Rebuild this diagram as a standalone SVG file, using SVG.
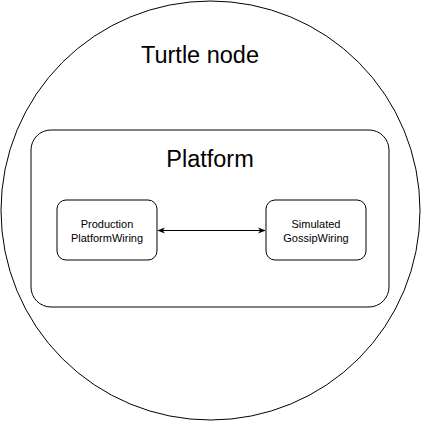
<svg xmlns="http://www.w3.org/2000/svg" width="421" height="421" viewBox="0 0 421 421">
<style>
.s{fill:#fff;stroke:#000;stroke-width:1}
.t{font-family:"Liberation Sans",Arial,sans-serif;fill:#000;text-anchor:middle}
.big{font-size:23.5px}
.sm{font-size:11px}
</style>
<defs>
<marker id="ah" viewBox="0 0 10 10" refX="9" refY="5" markerWidth="8" markerHeight="8" orient="auto-start-reverse" markerUnits="userSpaceOnUse">
<path d="M0,1 L10,5 L0,9 L3,5 Z" fill="#000"/>
</marker>
</defs>
<rect width="421" height="421" fill="#fff"/>
<g id="turtle">
<circle class="s" cx="210.5" cy="210.5" r="209.5"/>
<text class="t big" x="200" y="63">Turtle node</text>
</g>
<g id="platform">
<rect class="s" x="31" y="130" width="358" height="177" rx="20"/>
<text class="t big" x="210" y="167">Platform</text>
</g>
<g id="production">
<rect class="s" x="57" y="200" width="100" height="60" rx="9"/>
<text class="t sm" x="107" y="228">Production</text>
<text class="t sm" x="107" y="241.5">PlatformWiring</text>
</g>
<g id="simulated">
<rect class="s" x="266" y="200" width="100" height="60" rx="9"/>
<text class="t sm" x="316" y="228">Simulated</text>
<text class="t sm" x="316" y="241.5">GossipWiring</text>
</g>
<g id="connectors">
<line x1="158" y1="230.5" x2="265" y2="230.5" stroke="#000" stroke-width="1" marker-start="url(#ah)" marker-end="url(#ah)"/>
</g>
</svg>
